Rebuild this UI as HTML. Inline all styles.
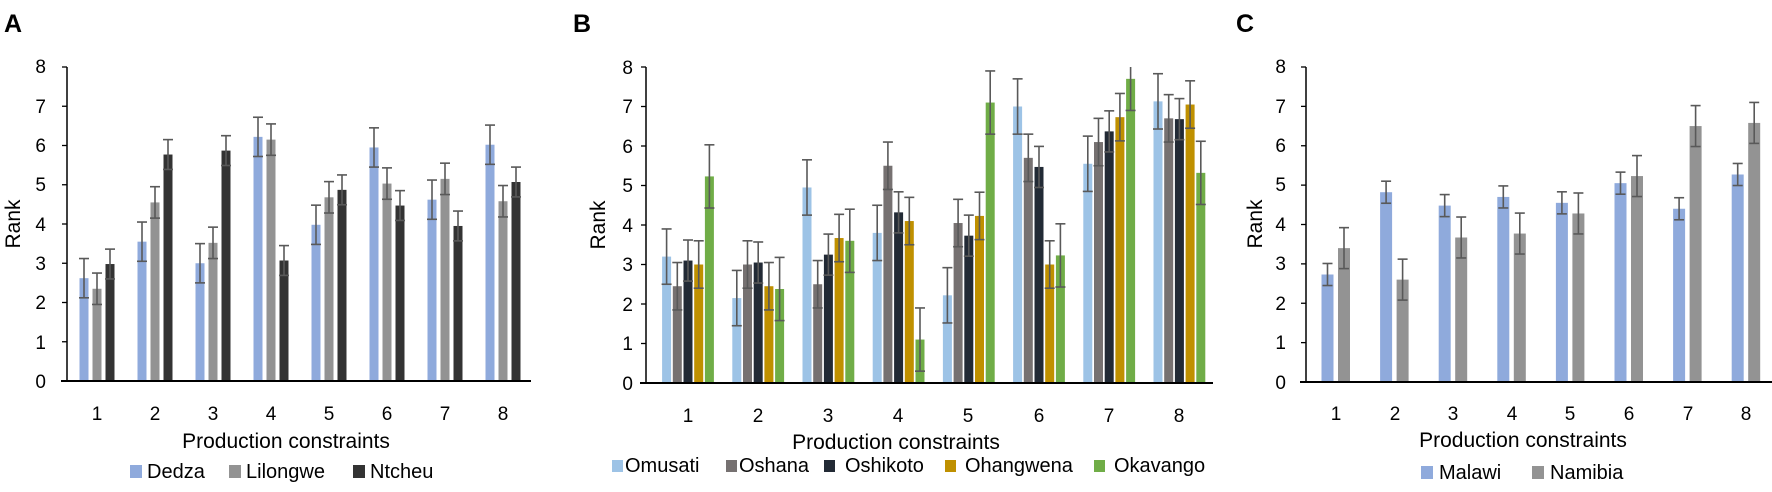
<!DOCTYPE html>
<html><head><meta charset="utf-8"><style>
html,body{margin:0;padding:0;background:#fff;}
svg{display:block;font-family:"Liberation Sans",sans-serif;}
.t{font-size:19px;fill:#000;}
.at{font-size:21px;fill:#000;}
.lg{font-size:20px;fill:#000;}
.pl{font-size:25px;font-weight:bold;fill:#000;}
</style></head><body>
<svg id="s" width="1772" height="492" viewBox="0 0 1772 492" xmlns="http://www.w3.org/2000/svg">
<text class="pl" x="4" y="32">A</text>
<text class="pl" x="573" y="32">B</text>
<text class="pl" x="1236" y="32">C</text>
<!-- A -->
<g class="t" text-anchor="end">
<text x="46" y="388">0</text><text x="46" y="349">1</text><text x="46" y="309">2</text><text x="46" y="270">3</text><text x="46" y="231">4</text><text x="46" y="191">5</text><text x="46" y="152">6</text><text x="46" y="113">7</text><text x="46" y="73">8</text>
</g>
<g class="t" text-anchor="middle">
<text x="97" y="420">1</text><text x="155" y="420">2</text><text x="213" y="420">3</text><text x="271" y="420">4</text><text x="329" y="420">5</text><text x="387" y="420">6</text><text x="445" y="420">7</text><text x="503" y="420">8</text>
</g>
<text class="at" text-anchor="middle" x="286" y="448">Production constraints</text>
<text class="at" text-anchor="middle" transform="translate(20,224) rotate(-90)">Rank</text>
<rect x="130" y="465" width="12" height="13" fill="#8FAADC"/><text class="lg" x="147" y="478">Dedza</text>
<rect x="229" y="465" width="12" height="13" fill="#939393"/><text class="lg" x="246" y="478">Lilongwe</text>
<rect x="353" y="465" width="12" height="13" fill="#333333"/><text class="lg" x="370" y="478">Ntcheu</text>
<!-- B -->
<g class="t" text-anchor="end">
<text x="633" y="390">0</text><text x="633" y="350">1</text><text x="633" y="311">2</text><text x="633" y="271">3</text><text x="633" y="232">4</text><text x="633" y="192">5</text><text x="633" y="153">6</text><text x="633" y="113">7</text><text x="633" y="74">8</text>
</g>
<g class="t" text-anchor="middle">
<text x="688" y="422">1</text><text x="758" y="422">2</text><text x="828" y="422">3</text><text x="898" y="422">4</text><text x="968" y="422">5</text><text x="1039" y="422">6</text><text x="1109" y="422">7</text><text x="1179" y="422">8</text>
</g>
<text class="at" text-anchor="middle" x="896" y="449">Production constraints</text>
<text class="at" text-anchor="middle" transform="translate(605,225) rotate(-90)">Rank</text>
<rect x="612" y="460" width="11" height="12" fill="#9DC3E6"/><text class="lg" x="625" y="472">Omusati</text>
<rect x="726" y="460" width="11" height="12" fill="#767171"/><text class="lg" x="739" y="472">Oshana</text>
<rect x="824" y="460" width="11" height="12" fill="#222A35"/><text class="lg" x="845" y="472">Oshikoto</text>
<rect x="945" y="460" width="11" height="12" fill="#BF9000"/><text class="lg" x="965" y="472">Ohangwena</text>
<rect x="1094" y="460" width="11" height="12" fill="#70AD47"/><text class="lg" x="1114" y="472">Okavango</text>
<!-- C -->
<g class="t" text-anchor="end">
<text x="1286" y="389">0</text><text x="1286" y="349">1</text><text x="1286" y="310">2</text><text x="1286" y="270">3</text><text x="1286" y="231">4</text><text x="1286" y="191">5</text><text x="1286" y="152">6</text><text x="1286" y="113">7</text><text x="1286" y="73">8</text>
</g>
<g class="t" text-anchor="middle">
<text x="1336" y="420">1</text><text x="1395" y="420">2</text><text x="1453" y="420">3</text><text x="1512" y="420">4</text><text x="1570" y="420">5</text><text x="1629" y="420">6</text><text x="1688" y="420">7</text><text x="1746" y="420">8</text>
</g>
<text class="at" text-anchor="middle" x="1523" y="447">Production constraints</text>
<text class="at" text-anchor="middle" transform="translate(1262,224) rotate(-90)">Rank</text>
<rect x="1421" y="466" width="12" height="13" fill="#8FAADC"/><text class="lg" x="1439" y="479">Malawi</text>
<rect x="1532" y="466" width="12" height="13" fill="#939393"/><text class="lg" x="1550" y="479">Namibia</text>
<g id="bars"></g>
</svg>
<script>
var NS="http://www.w3.org/2000/svg",g=document.getElementById("bars");
function el(n,a){var e=document.createElementNS(NS,n);for(var k in a)e.setAttribute(k,a[k]);g.appendChild(e);return e;}
function panel(o){
  var u=(o.y0-o.y8)/8;
  o.series.forEach(function(s,si){
    s.v.forEach(function(v,i){
      var cx=o.c0+o.step*i+o.off[si], y=o.y0-v*u;
      el("rect",{x:cx-o.w/2,y:y,width:o.w,height:o.y0-y,fill:s.c});
      var e=s.e, top=v+e, clip=top>8; if(clip)top=8;
      var yt=o.y0-top*u, yb=o.y0-Math.max(0,v-e)*u;
      el("line",{x1:cx,x2:cx,y1:yt,y2:yb,stroke:"#595959","stroke-width":1.6});
      if(!clip)el("line",{x1:cx-5,x2:cx+5,y1:yt,y2:yt,stroke:"#595959","stroke-width":1.6});
      el("line",{x1:cx-5,x2:cx+5,y1:yb,y2:yb,stroke:"#595959","stroke-width":1.6});
    });
  });
  el("line",{x1:o.ax,x2:o.ax,y1:o.y8,y2:o.y0,stroke:"#000","stroke-width":1.5});
  for(var k=0;k<=8;k++){var yy=o.y0-k*u;el("line",{x1:o.ax-5,x2:o.ax,y1:yy,y2:yy,stroke:"#000","stroke-width":1.3});}
  el("line",{x1:o.ax-6,x2:o.xe,y1:o.y0,y2:o.y0,stroke:"#000","stroke-width":2});
}
panel({ax:67,xe:531,y0:381,y8:67,c0:97,step:58,w:9,off:[-13,0,13],series:[
 {c:"#8FAADC",e:0.5,v:[2.62,3.55,3.0,6.22,3.98,5.95,4.62,6.02]},
 {c:"#939393",e:0.4,v:[2.35,4.55,3.52,6.15,4.68,5.03,5.15,4.58]},
 {c:"#333333",e:0.38,v:[2.98,5.77,5.87,3.07,4.87,4.47,3.95,5.07]}]});
panel({ax:646,xe:1213,y0:383,y8:67,c0:688,step:70.2,w:9,off:[-21.4,-10.7,0,10.7,21.4],series:[
 {c:"#9DC3E6",e:0.7,v:[3.2,2.15,4.95,3.8,2.22,7.0,5.55,7.13]},
 {c:"#767171",e:0.6,v:[2.45,3.0,2.5,5.5,4.05,5.7,6.1,6.7]},
 {c:"#222A35",e:0.52,v:[3.1,3.05,3.25,4.32,3.73,5.47,6.37,6.68]},
 {c:"#BF9000",e:0.6,v:[3.0,2.45,3.67,4.1,4.23,3.0,6.73,7.05]},
 {c:"#70AD47",e:0.8,v:[5.23,2.38,3.6,1.1,7.1,3.23,7.7,5.32]}]});
panel({ax:1306,xe:1772,y0:382,y8:67,c0:1336,step:58.6,w:12,off:[-8.5,8],series:[
 {c:"#8FAADC",e:0.28,v:[2.73,4.82,4.48,4.7,4.55,5.05,4.4,5.27]},
 {c:"#939393",e:0.52,v:[3.4,2.6,3.67,3.77,4.28,5.23,6.5,6.58]}]});
</script>
</body></html>
